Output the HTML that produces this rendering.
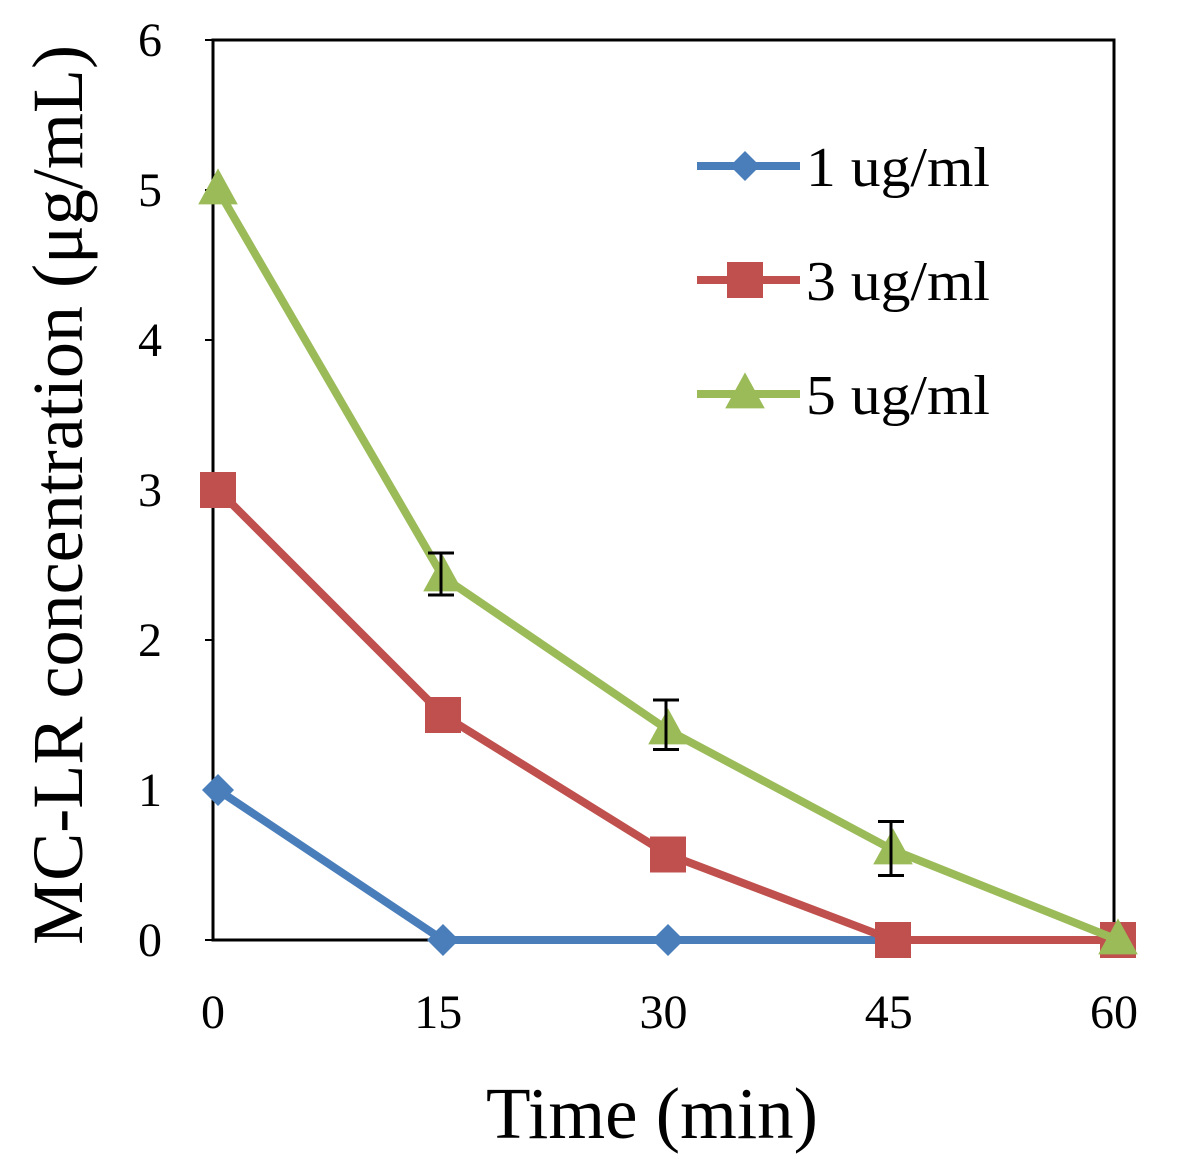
<!DOCTYPE html>
<html><head><meta charset="utf-8"><style>
body{margin:0;background:#fff;}
svg{display:block;font-family:"Liberation Serif","DejaVu Serif",serif;}
</style></head><body>
<svg id="chart" width="1177" height="1165">
<rect x="213" y="40" width="901" height="900" fill="#fff" stroke="#000" stroke-width="3"/>
<g id="axes"></g>
<g id="series"></g>
<text x="652" y="1138" font-size="73" text-anchor="middle">Time (min)</text>
<text transform="translate(82,495) rotate(-90)" font-size="72" text-anchor="middle" textLength="900" lengthAdjust="spacingAndGlyphs">MC-LR concentration (μg/mL)</text>
<g id="legend"></g>
</svg>
<script>
const times=[0,15,30,45,60];
const s1=[1,0,0,0,0];
const s3=[3,1.5,0.57,0,0];
const s5=[5,2.42,1.4,0.6,0];
const err5Low=[null,2.3,1.27,0.43,null];
const err5High=[null,2.58,1.6,0.79,null];
const yTicks=[0,1,2,3,4,5,6];
const xTicks=[0,15,30,45,60];
const names=["1 ug/ml","3 ug/ml","5 ug/ml"];
const NS="http://www.w3.org/2000/svg";
const X=v=>213+v*(1114-213)/60;
const XM=v=>218+v*(1118-218)/60;
const Y=v=>940-v*150;
function mk(tag,at,parent){const e=document.createElementNS(NS,tag);for(const k in at)e.setAttribute(k,at[k]);parent.appendChild(e);return e;}
const ax=document.getElementById('axes');
yTicks.forEach(t=>{
  const l=mk('line',{x1:213,x2:205,y1:Y(t),y2:Y(t),stroke:'#000','stroke-width':2},ax);
  
  
  const tx=mk('text',{x:162,y:Y(t)+16,'font-size':48,'text-anchor':'end'},ax);tx.textContent=t;
  
  
});
xTicks.forEach(t=>{
  const tx=mk('text',{x:X(t),y:1028,'font-size':48,'text-anchor':'middle'},ax);tx.textContent=t;
  
  
});
const sg=document.getElementById('series');
function marker(kind,cx,cy,col,g,sz){
  let m;
  if(kind==='d')m=mk('polygon',{points:`${cx},${cy-sz} ${cx+sz},${cy} ${cx},${cy+sz} ${cx-sz},${cy}`,fill:col},g);
  else if(kind==='s')m=mk('rect',{x:cx-sz,y:cy-sz,width:2*sz,height:2*sz,fill:col},g);
  else m=mk('polygon',{points:`${cx},${cy-sz*1.2} ${cx+sz*1.1},${cy+sz*0.8} ${cx-sz*1.1},${cy+sz*0.8}`,fill:col},g);
  return m;
}
function series(vals,col,kind,name,sz,n){
  const g=mk('g',{},sg);
  
  
  const pts=[];for(let i=0;i<n;i++)pts.push(XM(times[i])+','+Y(vals[i]));
  mk('polyline',{points:pts.join(' '),fill:'none',stroke:col,'stroke-width':8,'stroke-linejoin':'round'},g);
  for(let i=0;i<n;i++){const m=marker(kind,XM(times[i]),Y(vals[i]),col,g,sz);
    
    }
}
series(s1,'#4a7ebb','d','series-1ugml',16,4);
series(s3,'#c0504d','s','series-3ugml',18,5);
series(s5,'#9bbb59','t','series-5ugml',18,5);
times.forEach((t,i)=>{
  if(err5Low[i]==null)return;
  const g=mk('g',{stroke:'#000','stroke-width':3},sg);
  
  
  const x=XM(t)-2;
  mk('line',{x1:x,x2:x,y1:Y(err5High[i]),y2:Y(err5Low[i])},g);
  mk('line',{x1:x-13,x2:x+13,y1:Y(err5High[i]),y2:Y(err5High[i])},g);
  mk('line',{x1:x-13,x2:x+13,y1:Y(err5Low[i]),y2:Y(err5Low[i])},g);
});
const lg=document.getElementById('legend');
const cols=['#4a7ebb','#c0504d','#9bbb59'],kinds=['d','s','t'];
names.forEach((nm,i)=>{
  const y=166+i*114;
  const g=mk('g',{},lg);
  
  
  mk('line',{x1:697,x2:800,y1:y,y2:y,stroke:cols[i],'stroke-width':8},g);
  marker(kinds[i],745,y,cols[i],g,i===0?15:18);
  const tx=mk('text',{x:806,y:y+20,'font-size':56,textLength:184,lengthAdjust:'spacingAndGlyphs'},g);tx.textContent=nm;
});
</script>
</body></html>
